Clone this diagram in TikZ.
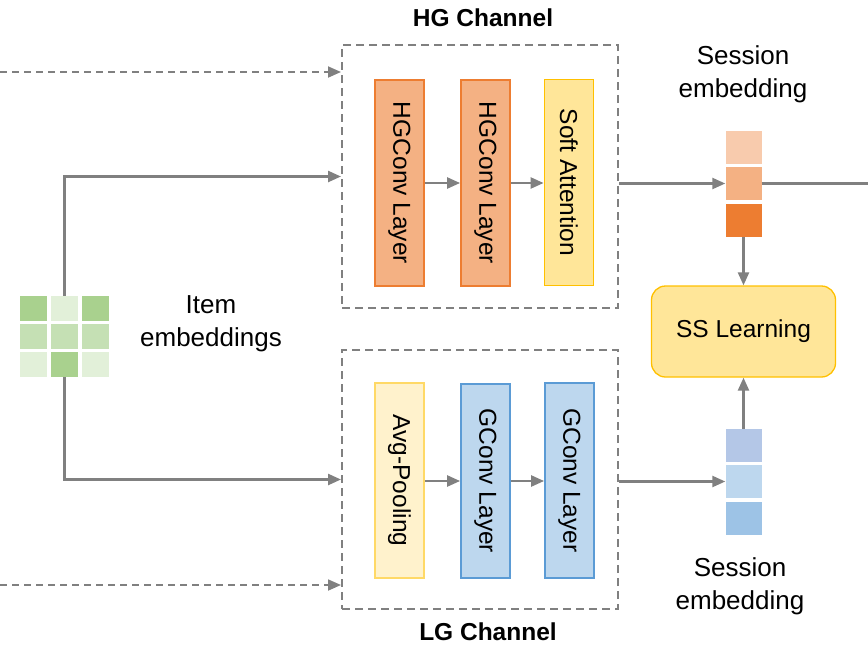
\documentclass[tikz,border=0pt]{standalone}
\usepackage{fontspec}
\setmainfont{Liberation Sans}
\usetikzlibrary{arrows.meta,calc}
\definecolor{arr}{HTML}{808080}
\definecolor{dsh}{HTML}{808080}
\definecolor{orF}{HTML}{F4B183}\definecolor{orD}{HTML}{ED7D31}\definecolor{orL}{HTML}{F8CBAD}
\definecolor{ylF}{HTML}{FFE699}\definecolor{ylD}{HTML}{FFC000}
\definecolor{plF}{HTML}{FFF2CC}\definecolor{plD}{HTML}{FFD966}
\definecolor{blF}{HTML}{BDD7EE}\definecolor{blD}{HTML}{5B9BD5}\definecolor{blA}{HTML}{B4C7E7}\definecolor{blB}{HTML}{9DC3E6}
\definecolor{gD}{HTML}{A9D18E}\definecolor{gM}{HTML}{C5E0B4}\definecolor{gL}{HTML}{E2F0D9}
\begin{document}
\begin{tikzpicture}[x=1pt,y=-1pt,
  txt/.style={font=\fontsize{26}{33}\selectfont,align=center,inner sep=0pt},
  ttl/.style={font=\fontsize{24.5}{26}\selectfont\bfseries,inner sep=0pt},
  layer/.style={draw,line width=1.8pt,minimum width=49pt,inner sep=0pt,font=\fontsize{24.5}{26}\selectfont},
  chan/.style={draw=dsh,line width=2pt,dash pattern=on 8pt off 5pt,inner sep=0pt},
  cell/.style={minimum width=36pt,minimum height=33pt,inner sep=0pt},
  gcell/.style={minimum width=27pt,minimum height=25pt,inner sep=0pt},
  ar/.style={draw=arr,line width=2.4pt,-{Triangle[length=13pt,width=11pt]}},
  ln/.style={draw=arr,line width=2.4pt},
  dar/.style={draw=arr,line width=1.8pt,dash pattern=on 7pt off 5pt,-{Triangle[length=13pt,width=11pt]}}]
\useasboundingbox (0,0) rectangle (868,646);
% channel boxes
\node[chan,minimum width=276pt,minimum height=263pt] (hg) at (480,176.5) {};
\node[chan,minimum width=276pt,minimum height=259pt] (lg) at (480,479.5) {};
\node[ttl] (hgt) at (483,18) {HG Channel};
\node[ttl] (lgt) at (488,632) {LG Channel};
% HG layers
\node[layer,draw=orD,fill=orF,minimum height=206pt] (h1) at (399.5,183) {\rotatebox{-90}{HGConv Layer}};
\node[layer,draw=orD,fill=orF,minimum height=206pt] (h2) at (485.5,183) {\rotatebox{-90}{HGConv Layer}};
\node[layer,draw=ylD,fill=ylF,minimum height=206pt] (h3) at (569,182.5) {\rotatebox{-90}{Soft Attention}};
% LG layers
\node[layer,draw=plD,fill=plF,minimum height=195pt] (l1) at (399.5,480.5) {\rotatebox{-90}{Avg-Pooling}};
\node[layer,draw=blD,fill=blF,minimum height=194pt] (l2) at (485.5,481) {\rotatebox{-90}{GConv Layer}};
\node[layer,draw=blD,fill=blF,minimum height=195pt] (l3) at (569.5,480.5) {\rotatebox{-90}{GConv Layer}};
\draw[ar] (h1.east |- 0,183) -- (h2.west |- 0,183);
\draw[ar] (h2.east |- 0,183) -- (h3.west |- 0,183);
\draw[ar] (l1.east |- 0,481) -- (l2.west |- 0,481);
\draw[ar] (l2.east |- 0,481) -- (l3.west |- 0,481);
% session embeddings top
\node[cell,fill=orL] (s1) at (743.5,147.5) {};
\node[cell,fill=orF] (s2) at (743.5,183.5) {};
\node[cell,fill=orD] (s3) at (743.5,220.5) {};
\node[txt] (st) at (743,74) {Session\\embedding};
% session embeddings bottom
\node[cell,fill=blA] (b1) at (743.5,445.5) {};
\node[cell,fill=blF] (b2) at (743.5,481.5) {};
\node[cell,fill=blB] (b3) at (743.5,518.5) {};
\node[txt] (sb) at (740,586) {Session\\embedding};
% SS learning
\node[draw=ylD,fill=ylF,line width=1.3pt,rounded corners=14pt,minimum width=184pt,minimum height=91pt,inner sep=0pt,font=\fontsize{24.5}{26}\selectfont] (ss) at (743.5,331.5) {SS Learning};
\draw[ar] (hg.east |- s2.west) -- (s2.west);
\coordinate (rend) at (868,183.5);
\draw[ln] (s2.east) -- (rend);
\draw[ar] (s3.south) -- (ss.north);
\draw[ar] (lg.east |- b2.west) -- (b2.west);
\draw[ar] (b1.north) -- (ss.south);
% item embedding grid
\node[gcell,fill=gD] (g11) at (33.5,308.5) {};
\node[gcell,fill=gL] (g12) at (64.5,308.5) {};
\node[gcell,fill=gD] (g13) at (95.5,308.5) {};
\node[gcell,fill=gM] (g21) at (33.5,336.5) {};
\node[gcell,fill=gM] (g22) at (64.5,336.5) {};
\node[gcell,fill=gM] (g23) at (95.5,336.5) {};
\node[gcell,fill=gL] (g31) at (33.5,364.5) {};
\node[gcell,fill=gD] (g32) at (64.5,364.5) {};
\node[gcell,fill=gL] (g33) at (95.5,364.5) {};
\node[txt] (it) at (211,323.5) {Item\\embeddings};
\draw[ar] (g12.north) |- (hg.west);
\draw[ar] (g32.south) |- (lg.west);
% dashed inputs
\coordinate (d1) at (0,72);
\coordinate (d2) at (0,585);
\draw[dar] (d1) -- (d1 -| hg.west);
\draw[dar] (d2) -- (d2 -| lg.west);
\end{tikzpicture}
\end{document}
